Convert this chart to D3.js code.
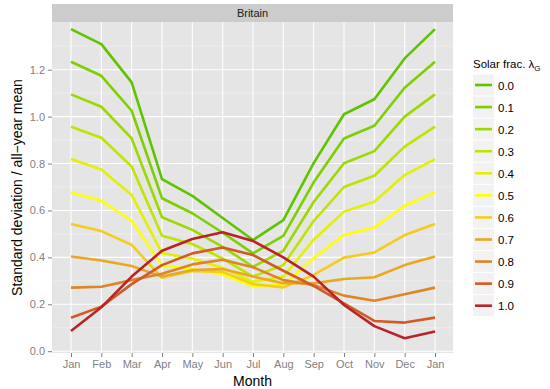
<!DOCTYPE html>
<meta charset="utf-8">
<script src="https://d3js.org/d3.v7.min.js"></script>
<style>
  body { margin: 0; background: #fff; }
  text { font-family: "Liberation Sans", Arial, sans-serif; }
</style>
<div id="chart"></div>
<script>
// months along x (Jan repeated at the end to close the year)
var months = ["Jan","Feb","Mar","Apr","May","Jun","Jul","Aug","Sep","Oct","Nov","Dec","Jan"];
var fractions = ["0.0","0.1","0.2","0.3","0.4","0.5","0.6","0.7","0.8","0.9","1.0"];
var yTicks = [0, 0.2, 0.4, 0.6, 0.8, 1.0, 1.2];

// std deviation / all-year mean, one array per solar fraction
var sf00 = [1.373, 1.309, 1.146, 0.734, 0.662, 0.568, 0.474, 0.559, 0.802, 1.010, 1.074, 1.248, 1.373];
var sf01 = [1.234, 1.174, 1.025, 0.652, 0.588, 0.505, 0.417, 0.492, 0.720, 0.907, 0.961, 1.123, 1.234];
var sf02 = [1.095, 1.042, 0.907, 0.571, 0.517, 0.445, 0.360, 0.428, 0.636, 0.801, 0.853, 1.000, 1.095];
var sf03 = [0.957, 0.910, 0.787, 0.492, 0.457, 0.395, 0.318, 0.367, 0.555, 0.700, 0.748, 0.872, 0.957];
var sf04 = [0.819, 0.775, 0.666, 0.418, 0.395, 0.355, 0.296, 0.318, 0.475, 0.595, 0.637, 0.751, 0.819];
var sf05 = [0.677, 0.642, 0.556, 0.365, 0.350, 0.327, 0.278, 0.282, 0.396, 0.495, 0.527, 0.620, 0.677];
var sf06 = [0.542, 0.512, 0.453, 0.313, 0.342, 0.338, 0.286, 0.272, 0.325, 0.399, 0.421, 0.495, 0.542];
var sf07 = [0.404, 0.387, 0.363, 0.318, 0.346, 0.350, 0.318, 0.290, 0.289, 0.308, 0.315, 0.367, 0.404];
var sf08 = [0.271, 0.275, 0.303, 0.330, 0.370, 0.390, 0.358, 0.303, 0.282, 0.237, 0.215, 0.243, 0.271];
var sf09 = [0.143, 0.190, 0.286, 0.367, 0.417, 0.442, 0.410, 0.343, 0.278, 0.204, 0.129, 0.122, 0.143];
var sf10 = [0.086, 0.187, 0.318, 0.428, 0.478, 0.507, 0.470, 0.400, 0.318, 0.197, 0.107, 0.055, 0.084];

var colors = ["#5ec400","#7dcf00","#9bd900","#bfe400","#e3f000","#ffff00",
              "#f4cc1c","#e9a823","#dd8527","#cf5b26","#b92327"];

var series = [sf00, sf01, sf02, sf03, sf04, sf05, sf06, sf07, sf08, sf09, sf10].map(function(v, i) {
  return { frac: fractions[i], color: colors[i], values: v };
});

var W = 550, H = 389;
var panel = { left: 52, right: 453, top: 22, bottom: 353 };

var svg = d3.select("#chart").append("svg")
    .attr("width", W)
    .attr("height", H);

var x = d3.scaleLinear()
  .domain([0, months.length - 1])
  .range([71, 435]);

var y = d3.scaleLinear()
  .domain([0, 1.2])
  .range([351.2, 69.7]);

// strip
svg.append("rect")
  .attr("x", panel.left).attr("y", 4)
  .attr("width", panel.right - panel.left).attr("height", 18)
  .attr("fill", "#cccccc");
svg.append("text")
  .attr("x", (panel.left + panel.right) / 2).attr("y", 17)
  .attr("text-anchor", "middle")
  .style("font-size", "11px")
  .attr("fill", "#1a1a1a")
  .text("Britain");

// panel background
svg.append("rect")
  .attr("x", panel.left).attr("y", panel.top)
  .attr("width", panel.right - panel.left).attr("height", panel.bottom - panel.top)
  .attr("fill", "#e5e5e5");

// minor gridlines
var minor = d3.range(0.1, 1.4, 0.2);
svg.append("g").selectAll("line")
  .data(minor)
  .enter().append("line")
    .attr("x1", panel.left).attr("x2", panel.right)
    .attr("y1", function(d) { return y(d); })
    .attr("y2", function(d) { return y(d); })
    .attr("stroke", "#f2f2f2")
    .attr("stroke-width", 0.6);

// major gridlines
svg.append("g").selectAll("line")
  .data(yTicks)
  .enter().append("line")
    .attr("x1", panel.left).attr("x2", panel.right)
    .attr("y1", function(d) { return y(d); })
    .attr("y2", function(d) { return y(d); })
    .attr("stroke", "#ffffff")
    .attr("stroke-width", 1.1);
svg.append("g").selectAll("line")
  .data(d3.range(months.length))
  .enter().append("line")
    .attr("y1", panel.top).attr("y2", panel.bottom)
    .attr("x1", function(d) { return x(d); })
    .attr("x2", function(d) { return x(d); })
    .attr("stroke", "#ffffff")
    .attr("stroke-width", 1.1);

// axes
var xAxis = svg.append("g")
  .attr("transform", "translate(0," + panel.bottom + ")")
  .call(d3.axisBottom(x)
    .tickValues(d3.range(months.length))
    .tickFormat(function(i) { return months[i]; })
    .tickSize(4).tickPadding(3));
var yAxis = svg.append("g")
  .attr("transform", "translate(" + panel.left + ",0)")
  .call(d3.axisLeft(y)
    .tickValues(yTicks)
    .tickFormat(d3.format(".1f"))
    .tickSize(4).tickPadding(3));
[xAxis, yAxis].forEach(function(a) {
  a.select(".domain").remove();
  a.selectAll(".tick line").attr("stroke", "#7f7f7f");
  a.selectAll(".tick text")
    .attr("fill", "#7f7f7f")
    .style("font-size", "11px")
    .style("font-family", "Liberation Sans, Arial, sans-serif");
});

// lines
var line = d3.line()
  .x(function(d, i) { return x(i); })
  .y(function(d) { return y(d); });

svg.append("g").selectAll("path")
  .data(series)
  .enter().append("path")
    .attr("d", function(d) { return line(d.values); })
    .attr("fill", "none")
    .attr("stroke", function(d) { return d.color; })
    .attr("stroke-width", 2.6)
    .attr("stroke-linejoin", "round");

// axis titles
svg.append("text")
  .attr("x", (panel.left + panel.right) / 2).attr("y", 386)
  .attr("text-anchor", "middle")
  .style("font-size", "14px")
  .text("Month");
svg.append("text")
  .attr("transform", "translate(22," + ((panel.top + panel.bottom) / 2) + ") rotate(-90)")
  .attr("text-anchor", "middle")
  .style("font-size", "14px")
  .text("Standard deviation / all\u2212year mean");

// legend
var legend = svg.append("g").attr("transform", "translate(473,0)");
var title = legend.append("text")
  .attr("x", 0).attr("y", 68)
  .style("font-size", "11.5px");
title.append("tspan").text("Solar frac.  \u03bb");
title.append("tspan").attr("dy", 3).style("font-size", "8px").text("G");

var key = legend.selectAll("g.key")
  .data(series)
  .enter().append("g")
    .attr("class", "key")
    .attr("transform", function(d, i) { return "translate(0," + (74.5 + i * 22.07) + ")"; });
key.append("rect")
  .attr("width", 21).attr("height", 21)
  .attr("fill", "#f2f2f2");
key.append("line")
  .attr("x1", 2).attr("x2", 19)
  .attr("y1", 10.5).attr("y2", 10.5)
  .attr("stroke", function(d) { return d.color; })
  .attr("stroke-width", 2.6);
key.append("text")
  .attr("x", 25).attr("y", 15)
  .style("font-size", "11.5px")
  .text(function(d) { return d.frac; });
</script>
